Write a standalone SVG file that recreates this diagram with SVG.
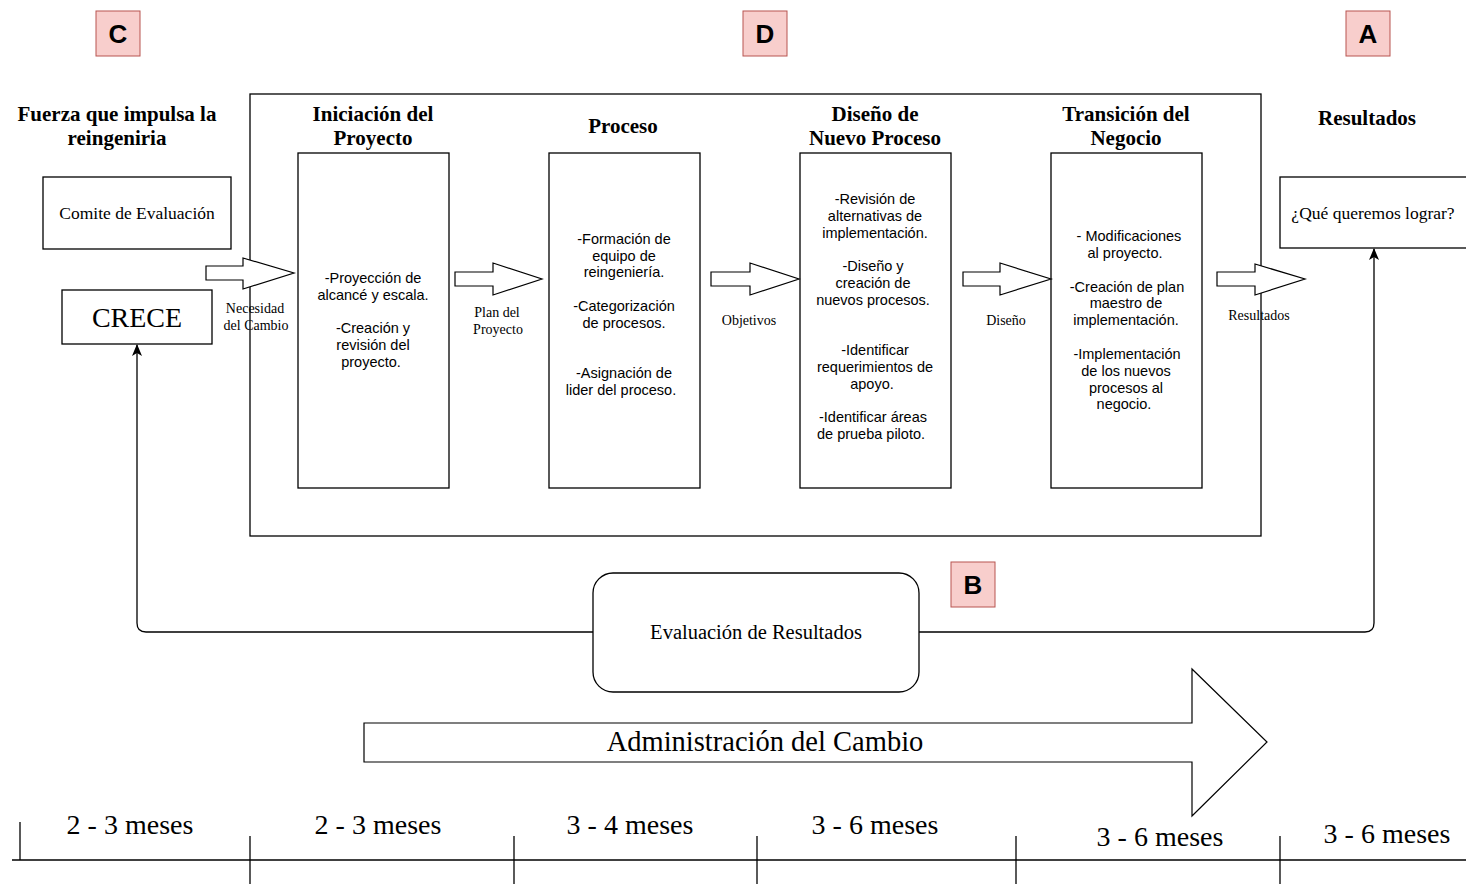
<svg xmlns="http://www.w3.org/2000/svg" width="1466" height="892" viewBox="0 0 1466 892">
<defs>
<style>
.box{fill:#fff;stroke:#000;stroke-width:1.3}
.lbl{fill:#f8cecc;stroke:#b85450;stroke-width:1}
.lt{font-family:"Liberation Sans",Arial,sans-serif;font-weight:bold;font-size:26px;text-anchor:middle;fill:#000}
.hd{font-family:"Liberation Serif","Times New Roman",serif;font-weight:bold;font-size:21px;text-anchor:middle;fill:#000}
.bd{font-family:"Liberation Sans",Arial,sans-serif;font-size:14.5px;text-anchor:middle;fill:#000}
.sm{font-family:"Liberation Serif","Times New Roman",serif;font-size:14px;text-anchor:middle;fill:#000}
.sr{font-family:"Liberation Serif","Times New Roman",serif;font-size:17.5px;text-anchor:middle;fill:#000}
.big{font-family:"Liberation Serif","Times New Roman",serif;font-size:28px;text-anchor:middle;fill:#000}
.blk{fill:#fff;stroke:#000;stroke-width:1.2}
.ln{fill:none;stroke:#000;stroke-width:1.3}
</style>
<marker id="ah" markerWidth="12" markerHeight="10" refX="11" refY="5" orient="auto" markerUnits="userSpaceOnUse" viewBox="0 0 12 10">
<path d="M0,0 L12,5 L0,10 L3,5 Z" fill="#000"/>
</marker>
</defs>

<g id="label-C"><rect class="lbl" x="96" y="11" width="44" height="45"/><text class="lt" x="118" y="43">C</text></g>
<g id="label-D"><rect class="lbl" x="743" y="11" width="44" height="45"/><text class="lt" x="765" y="43">D</text></g>
<g id="label-A"><rect class="lbl" x="1346" y="11" width="44" height="45"/><text class="lt" x="1368" y="43">A</text></g>
<g id="label-B"><rect class="lbl" x="951" y="562" width="44" height="45"/><text class="lt" x="973" y="594">B</text></g>

<g id="main-frame"><rect class="box" x="250" y="94" width="1011" height="442" fill="none"/></g>

<g id="fuerza">
<text class="hd" x="117" y="121">Fuerza que impulsa la</text>
<text class="hd" x="117" y="145">reingeniria</text>
</g>
<g id="comite"><rect class="box" x="43" y="177" width="188" height="72"/><text class="sr" x="137" y="219">Comite de Evaluación</text></g>
<g id="crece"><rect class="box" x="62" y="290" width="150" height="54"/><text class="big" x="137" y="327">CRECE</text></g>

<g id="iniciacion">
<text class="hd" x="373" y="121">Iniciación del</text>
<text class="hd" x="373" y="145">Proyecto</text>
<rect class="box" x="298" y="153" width="151" height="335"/>
<text class="bd" x="373" y="283">-Proyección de</text>
<text class="bd" x="373" y="300">alcancé y escala.</text>
<text class="bd" x="373" y="333">-Creación y</text>
<text class="bd" x="373" y="350">revisión del</text>
<text class="bd" x="371" y="367">proyecto.</text>
</g>

<g id="proceso">
<text class="hd" x="623" y="133">Proceso</text>
<rect class="box" x="549" y="153" width="151" height="335"/>
<text class="bd" x="624" y="244">-Formación de</text>
<text class="bd" x="624" y="261">equipo de</text>
<text class="bd" x="624" y="277">reingeniería.</text>
<text class="bd" x="624" y="311">-Categorización</text>
<text class="bd" x="624" y="328">de procesos.</text>
<text class="bd" x="624" y="378">-Asignación de</text>
<text class="bd" x="621" y="395">lider del proceso.</text>
</g>

<g id="diseno">
<text class="hd" x="875" y="121">Diseño de</text>
<text class="hd" x="875" y="145">Nuevo Proceso</text>
<rect class="box" x="800" y="153" width="151" height="335"/>
<text class="bd" x="875" y="204">-Revisión de</text>
<text class="bd" x="875" y="221">alternativas de</text>
<text class="bd" x="875" y="238">implementación.</text>
<text class="bd" x="873" y="271">-Diseño y</text>
<text class="bd" x="873" y="288">creación  de</text>
<text class="bd" x="873" y="305">nuevos procesos.</text>
<text class="bd" x="875" y="355">-Identificar</text>
<text class="bd" x="875" y="372">requerimientos de</text>
<text class="bd" x="872" y="389">apoyo.</text>
<text class="bd" x="873" y="422">-Identificar áreas</text>
<text class="bd" x="871" y="439">de prueba piloto.</text>
</g>

<g id="transicion">
<text class="hd" x="1126" y="121">Transición del</text>
<text class="hd" x="1126" y="145">Negocio</text>
<rect class="box" x="1051" y="153" width="151" height="335"/>
<text class="bd" x="1129" y="241">- Modificaciones</text>
<text class="bd" x="1125" y="258">al proyecto.</text>
<text class="bd" x="1127" y="292">-Creación de plan</text>
<text class="bd" x="1126" y="308">maestro de</text>
<text class="bd" x="1126" y="325">implementación.</text>
<text class="bd" x="1127" y="359">-Implementación</text>
<text class="bd" x="1126" y="376">de los nuevos</text>
<text class="bd" x="1126" y="393">procesos al</text>
<text class="bd" x="1124" y="409">negocio.</text>
</g>

<g id="resultados">
<text class="hd" x="1367" y="125">Resultados</text>
<rect class="box" x="1280" y="177" width="190" height="71"/>
<text class="sr" x="1373" y="219">¿Qué queremos lograr?</text>
</g>

<g id="evaluacion"><rect class="box" x="593" y="573" width="326" height="119" rx="20"/><text class="sr" x="756" y="639" style="font-size:20.5px">Evaluación de Resultados</text></g>

<g id="administracion">
<polygon class="blk" points="364,723 1192,723 1192,669 1267,742 1192,816 1192,762 364,762"/>
<text class="big" x="765" y="751" style="font-size:28.5px">Administración del Cambio</text>
</g>

<g id="connectors">
<polygon class="blk" points="206,266 243,266 243,258 294,273 243,289 243,280 206,280"/>
<polygon class="blk" points="455,272 493,272 493,263 542,279 493,295 493,286 455,286"/>
<polygon class="blk" points="711,272 750,272 750,263 799,279 750,295 750,286 711,286"/>
<polygon class="blk" points="963,272 1000,272 1000,263 1051,279 1000,295 1000,286 963,286"/>
<polygon class="blk" points="1217,272 1255,272 1255,264 1305,279 1255,295 1255,286 1217,286"/>
<text class="sm" x="255" y="313">Necesidad</text>
<text class="sm" x="256" y="330">del Cambio</text>
<text class="sm" x="497" y="317">Plan del</text>
<text class="sm" x="498" y="334">Proyecto</text>
<text class="sm" x="749" y="325">Objetivos</text>
<text class="sm" x="1006" y="325">Diseño</text>
<text class="sm" x="1259" y="320">Resultados</text>
<path class="ln" d="M593,632 L146,632 Q137,632 137,623 L137,345" marker-end="url(#ah)"/>
<path class="ln" d="M919,632 L1365,632 Q1374,632 1374,623 L1374,249" marker-end="url(#ah)"/>
</g>

<g id="timeline">
<line class="ln" x1="12" y1="860" x2="1466" y2="860" style="stroke-width:1.6"/>
<line class="ln" x1="20" y1="822" x2="20" y2="860"/>
<line class="ln" x1="250" y1="836" x2="250" y2="884"/>
<line class="ln" x1="514" y1="836" x2="514" y2="884"/>
<line class="ln" x1="757" y1="836" x2="757" y2="884"/>
<line class="ln" x1="1016" y1="836" x2="1016" y2="884"/>
<line class="ln" x1="1280" y1="836" x2="1280" y2="884"/>
<text class="big" x="130" y="834">2 - 3 meses</text>
<text class="big" x="378" y="834">2 - 3 meses</text>
<text class="big" x="630" y="834">3 - 4 meses</text>
<text class="big" x="875" y="834">3 - 6 meses</text>
<text class="big" x="1160" y="846">3 - 6 meses</text>
<text class="big" x="1387" y="843">3 - 6 meses</text>
</g>
</svg>
